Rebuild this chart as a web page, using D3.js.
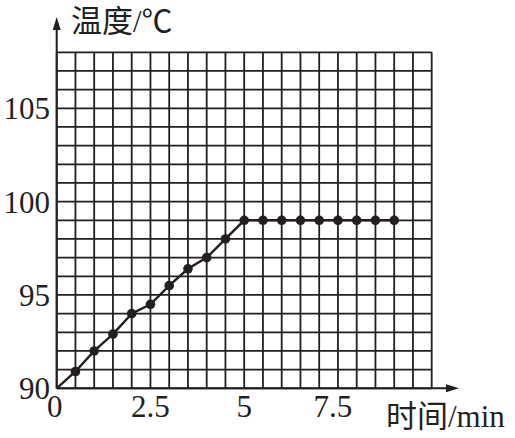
<!DOCTYPE html>
<html>
<head>
<meta charset="utf-8">
<script src="https://cdn.jsdelivr.net/npm/d3@7/dist/d3.min.js"></script>
<style>
  html, body { margin: 0; padding: 0; background: #fff; }
  svg { display: block; }
</style>
</head>
<body>
<svg id="chart" width="515" height="438"></svg>
<script>
// ---- data ----
const times = [0, 0.5, 1, 1.5, 2, 2.5, 3, 3.5, 4, 4.5, 5, 5.5, 6, 6.5, 7, 7.5, 8, 8.5, 9];
const temps = [90, 90.9, 92, 92.9, 94, 94.5, 95.5, 96.4, 97, 98, 99, 99, 99, 99, 99, 99, 99, 99, 99];
const xTickValues = [0, 2.5, 5, 7.5];
const xTickLabels = ["0", "2.5", "5", "7.5"];
const yTickValues = [90, 95, 100, 105];
const yTickLabels = ["90", "95", "100", "105"];
const xTitle = "时间/min";
const yTitle = "温度/℃";

// ---- layout ----
const svg = d3.select("#chart");
const x = d3.scaleLinear().domain([0, 10]).range([56.7, 431.7]);
const y = d3.scaleLinear().domain([90, 108]).range([388.3, 52.3]);
const ink = "#231f1e";
const font = "'Liberation Serif', 'Noto Sans CJK SC', serif";

// grid
const gx = d3.range(0, 10.0001, 0.5);
const gy = d3.range(90, 108.0001, 1);
const grid = svg.append("g").attr("stroke", ink).attr("stroke-width", 1.8);
grid.selectAll("line.v").data(gx).join("line")
  .attr("x1", d => x(d)).attr("x2", d => x(d))
  .attr("y1", y(90)).attr("y2", y(108));
grid.selectAll("line.h").data(gy).join("line")
  .attr("x1", x(0)).attr("x2", x(10))
  .attr("y1", d => y(d)).attr("y2", d => y(d));

// axes with arrows
const axes = svg.append("g");
axes.append("line").attr("x1", x(0)).attr("x2", 452).attr("y1", y(90)).attr("y2", y(90))
  .attr("stroke", ink).attr("stroke-width", 2);
axes.append("path").attr("d", `M459,${y(90)} L446,${y(90) - 4} L446,${y(90) + 4} Z`).attr("fill", ink);
axes.append("line").attr("x1", x(0)).attr("x2", x(0)).attr("y1", y(90)).attr("y2", 25)
  .attr("stroke", ink).attr("stroke-width", 2);
axes.append("path").attr("d", `M${x(0)},17 L${x(0) - 4},30 L${x(0) + 4},30 Z`).attr("fill", ink);

// tick labels
svg.append("g").selectAll("text").data(yTickValues).join("text")
  .attr("x", 50).attr("y", d => y(d) + 11)
  .attr("text-anchor", "end")
  .attr("font-family", font).attr("font-size", 31).attr("fill", ink)
  .text((d, i) => yTickLabels[i]);
svg.append("g").selectAll("text").data(xTickValues).join("text")
  .attr("x", (d, i) => x(d) - (i === 0 ? 2 : (i === 3 ? 5 : 0)))
  .attr("y", 417)
  .attr("text-anchor", "middle")
  .attr("font-family", font).attr("font-size", 31).attr("fill", ink)
  .text((d, i) => xTickLabels[i]);

// axis titles
svg.append("text").attr("x", 71).attr("y", 32)
  .attr("font-family", font).attr("font-size", 31).attr("fill", ink).text(yTitle);
svg.append("text").attr("x", 386).attr("y", 427)
  .attr("font-family", font).attr("font-size", 31).attr("fill", ink).text(xTitle);

// data line + markers
const pts = times.map((t, i) => ({ t, v: temps[i] }));
svg.append("path").datum(pts)
  .attr("fill", "none").attr("stroke", ink).attr("stroke-width", 2.4)
  .attr("d", d3.line().x(d => x(d.t)).y(d => y(d.v)));
svg.append("g").selectAll("circle").data(pts.filter(d => d.t > 0)).join("circle")
  .attr("cx", d => x(d.t)).attr("cy", d => y(d.v)).attr("r", 4.8)
  .attr("fill", ink);
</script>
</body>
</html>
